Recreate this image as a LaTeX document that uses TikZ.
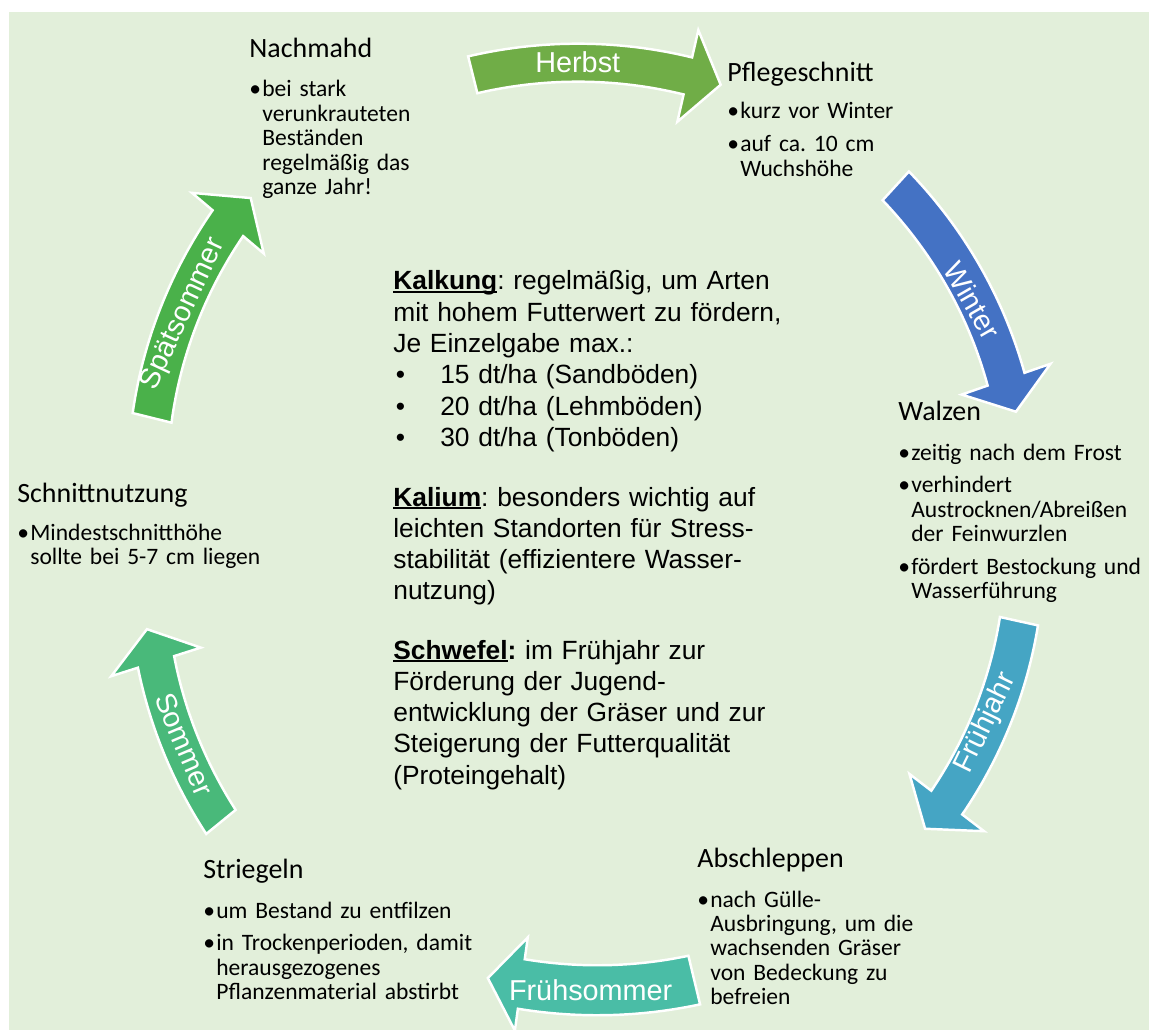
\documentclass[tikz,border=0pt]{standalone}
\usepackage{fontspec}
\setmainfont{Carlito}
\newfontfamily\arialfont{Liberation Sans}
\usetikzlibrary{positioning}
\frenchspacing

\definecolor{bggreen}{HTML}{E2EFDA}
\definecolor{herbstcol}{HTML}{70AD47}
\definecolor{wintercol}{HTML}{4472C4}
\definecolor{fruehjahrcol}{HTML}{45A5C4}
\definecolor{fruehsommercol}{HTML}{4ABDA6}
\definecolor{sommercol}{HTML}{49B97A}
\definecolor{spaetsommercol}{HTML}{4AB14A}

% bullet item with hanging indent
\newcommand{\pkt}[1]{\hangindent=0.26cm\hangafter=1\makebox[0.26cm][l]{\textbullet}#1\par}
\newcommand{\listpt}[1]{\makebox[0.94cm][l]{\hspace{0.05cm}\textbullet}#1}
\newsavebox{\ulbox}
\newcommand{\ulbf}[1]{\sbox{\ulbox}{\textbf{#1}}\rlap{\rule[-1.8pt]{\wd\ulbox}{1.1pt}}\usebox{\ulbox}}

% curved block arrow: colour, start, end angle, start, end radius, width, label angle, label rotation, label
\newcommand{\season}[9]{%
  \pgfmathsetmacro\atip{#3+34/#5*57.2958}
  \pgfmathsetmacro\rlab{#4+(#5-#4)*((#7)-(#2))/((#3)-(#2))-4*abs(sin(#8))}
  \filldraw[seasonarrow, fill=#1]
    plot[domain=#2:#3, samples=40] (\x:{#4+(#5-#4)*(\x-(#2))/((#3)-(#2))+#6/2})
    -- (#3:{#5+47}) -- (\atip:#5) -- (#3:{#5-47})
    -- plot[domain=#3:#2, samples=40] (\x:{#4+(#5-#4)*(\x-(#2))/((#3)-(#2))-#6/2})
    -- cycle;
  \node[seasonlabel, rotate=#8] at (#7:\rlab) {#9};
}

\tikzset{
  stage/.style={anchor=base west, inner sep=0pt, font=\fontsize{15.9pt}{19pt}\selectfont},
  notes/.style={anchor=base west, inner sep=0pt, text width=5.6cm, align=left,
    font=\fontsize{13.4pt}{13.9pt}\selectfont},
  facts/.style={anchor=base west, inner sep=0pt, text width=9cm, align=left,
    font=\arialfont\fontsize{15pt}{17.8pt}\selectfont},
  seasonarrow/.style={draw=white, line width=1.4pt, line join=miter},
  seasonlabel/.style={text=white, inner sep=0pt, font=\arialfont\fontsize{16.4pt}{19pt}\selectfont}
}

\begin{document}
\begin{tikzpicture}[x=0.02cm, y=-0.02cm]
  \useasboundingbox (0,0) rectangle (1149,1030);
  \fill[bggreen] (9,12) rectangle (1149,1030);

  % the yearly cycle
  \coordinate (hub) at (585,525);
  \begin{scope}[shift={(hub)}]
    \season{herbstcol}{-104}{-77.1}{464}{460.7}{38}{-90.9}{0}{Herbst}
    \season{wintercol}{-47.5}{-19.1}{460}{445.6}{39}{-30.1}{-60}{Winter}
    \season{fruehjahrcol}{12.5}{37.5}{444.5}{456}{39}{26.3}{64}{Frühjahr}
    \season{fruehsommercol}{76.5}{97.9}{468}{463.4}{50}{89.3}{0}{Frühsommer}
    \season{sommercol}{140.8}{162.3}{469.8}{450.3}{38}{151.3}{-67}{Sommer}
    \season{spaetsommercol}{193.9}{220.2}{446}{467.6}{40}{207.7}{65}{Spätsommer}
  \end{scope}

  % stages
  \node[stage] (nachmahd) at (249,57.5) {Nachmahd};
  \node[notes] (nachmahdtxt) at (249,97) {\setlength{\parskip}{4.8pt}%
    \pkt{bei stark\newline verunkrauteten\newline Beständen\newline regelmäßig das\newline ganze Jahr!}};

  \node[stage] (pflege) at (727,81.5) {Pflegeschnitt};
  \node[notes] (pflegetxt) at (727,119) {\setlength{\parskip}{4.8pt}%
    \pkt{kurz vor Winter}\pkt{auf ca. 10 cm\newline Wuchshöhe}};

  \node[stage] (walzen) at (898,420.5) {Walzen};
  \node[notes] (walzentxt) at (898,460) {\setlength{\parskip}{4.8pt}%
    \pkt{zeitig nach dem Frost}%
    \pkt{verhindert\newline Austrocknen/Abreißen\newline der Feinwurzlen}%
    \pkt{fördert Bestockung und\newline Wasserführung}};

  \node[stage] (abschl) at (697,867.5) {Abschleppen};
  \node[notes] (abschltxt) at (697,907) {\setlength{\parskip}{4.8pt}%
    \pkt{nach Gülle-\newline Ausbringung, um die\newline wachsenden Gräser\newline von Bedeckung zu\newline befreien}};

  \node[stage] (striegeln) at (203,878.5) {Striegeln};
  \node[notes] (striegelntxt) at (203,918) {\setlength{\parskip}{4.8pt}%
    \pkt{um Bestand zu entfilzen}%
    \pkt{in Trockenperioden, damit\newline herausgezogenes\newline Pflanzenmaterial abstirbt}};

  \node[stage] (schnitt) at (17,502.5) {Schnittnutzung};
  \node[notes] (schnitttxt) at (17,540) {\setlength{\parskip}{4.8pt}%
    \pkt{Mindestschnitthöhe\newline sollte bei 5-7 cm liegen}};

  % fertilising notes in the middle
  \node[facts] (kalkung) at (393,290) {\ulbf{Kalkung}: regelmäßig, um Arten\\
    mit hohem Futterwert zu fördern,\\ Je Einzelgabe max.:\\
    \listpt{15 dt/ha (Sandböden)}\\ \listpt{20 dt/ha (Lehmböden)}\\ \listpt{30 dt/ha (Tonböden)}};
  \node[facts] (kalium) at (393,506) {\ulbf{Kalium}: besonders wichtig auf\\
    leichten Standorten für Stress-\\ stabilität (effizientere Wasser-\\ nutzung)};
  \node[facts] (schwefel) at (393,659) {\ulbf{Schwefel}\textbf{:} im Frühjahr zur\\
    Förderung der Jugend-\\ entwicklung der Gräser und zur\\ Steigerung der Futterqualität\\ (Proteingehalt)};
\end{tikzpicture}
\end{document}
